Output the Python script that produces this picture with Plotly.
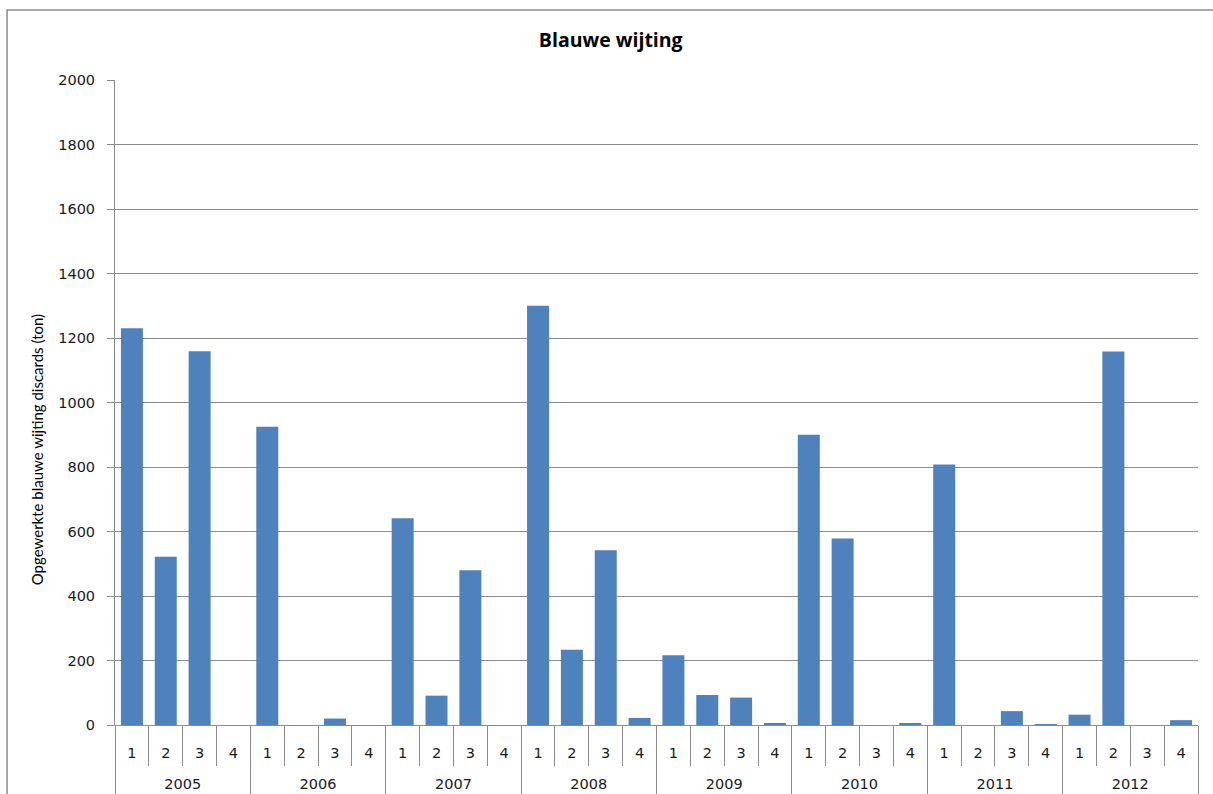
import plotly.graph_objects as go

# Quarterly discards of blue whiting (ton), 2005-2012
year_labels = ["2005", "2006", "2007", "2008", "2009", "2010", "2011", "2012"]
quarter_labels = ["1", "2", "3", "4"]
discards = [1230, 522, 1159, 0,
            925, 0, 20, 0,
            641, 91, 480, 0,
            1300, 233, 542, 22,
            216, 93, 85, 5,
            900, 578, 0, 4,
            808, 0, 43, 3,
            32, 1158, 0, 15]
y_ticks = list(range(0, 2001, 200))

# one unique category per year/quarter, labelled by its quarter only
periods = [f"{y} K{q}" for y in year_labels for q in quarter_labels]
period_text = [q for _ in year_labels for q in quarter_labels]

NUM_FONT = "DejaVu Sans"
TXT_FONT = "Open Sans"
GRID = "#8c8c8c"

fig = go.Figure()
fig.add_trace(go.Bar(
    x=periods,
    y=discards,
    marker=dict(color="#4F81BD", line=dict(width=0)),
    width=0.65,
))
# empty trace that registers the year categories on the second x axis
fig.add_trace(go.Bar(
    x=year_labels, y=[None] * len(year_labels),
    xaxis="x2", showlegend=False, hoverinfo="skip",
))

fig.update_layout(
    width=1213, height=794,
    margin=dict(l=115, r=15, t=80, b=69, autoexpand=False),
    paper_bgcolor="white", plot_bgcolor="white",
    showlegend=False,
    font=dict(family=NUM_FONT, size=14, color="#1a1a1a"),
    title=dict(text="<b>Blauwe wijting</b>", x=0.5035, xanchor="center",
               y=0.95, yanchor="middle", font=dict(family=TXT_FONT, size=19.5, color="black")),
    shapes=[dict(type="rect", xref="paper", yref="paper",
                 x0=-0.0997, x1=1.02, y0=-0.2, y1=1.1085,
                 line=dict(color="#8a8a8a", width=1.5), fillcolor="rgba(0,0,0,0)",
                 layer="below")],
    annotations=[dict(text="Opgewerkte blauwe wijting discards (ton)",
                      xref="paper", yref="paper", x=-0.072, y=0.426,
                      xanchor="center", yanchor="middle", textangle=-90,
                      showarrow=False, font=dict(size=15, family="Lato", color="black"))],
    xaxis=dict(
        type="category", tickmode="array", tickvals=periods, ticktext=period_text,
        tickangle=0, automargin=False,
        showline=True, linecolor=GRID, linewidth=1,
        tickson="boundaries", ticks="outside", ticklen=40, tickcolor=GRID,
        tickfont=dict(size=14.5, family=NUM_FONT),
        ticklabelstandoff=15,
        showgrid=False, zeroline=False,
    ),
    # year row underneath the quarter labels
    xaxis2=dict(
        type="category", categoryorder="array", categoryarray=year_labels,
        tickmode="array", tickvals=year_labels, range=[-0.5, 7.5],
        overlaying="x", anchor="y", side="bottom",
        tickangle=0, automargin=False,
        tickson="boundaries", ticks="outside", ticklen=80, tickcolor=GRID,
        showgrid=False, showline=False, zeroline=False,
        tickfont=dict(size=14.5, family=NUM_FONT),
        ticklabelstandoff=48,
    ),
    yaxis=dict(
        range=[0, 2000], tickmode="array", tickvals=y_ticks,
        showgrid=True, gridcolor=GRID, gridwidth=1,
        showline=True, linecolor=GRID, linewidth=1,
        ticks="outside", ticklen=7, tickcolor=GRID,
        tickfont=dict(size=14.5, family=NUM_FONT),
        ticklabelstandoff=9, automargin=False,
        zeroline=False,
    ),
)

fig.write_html("out.html")
